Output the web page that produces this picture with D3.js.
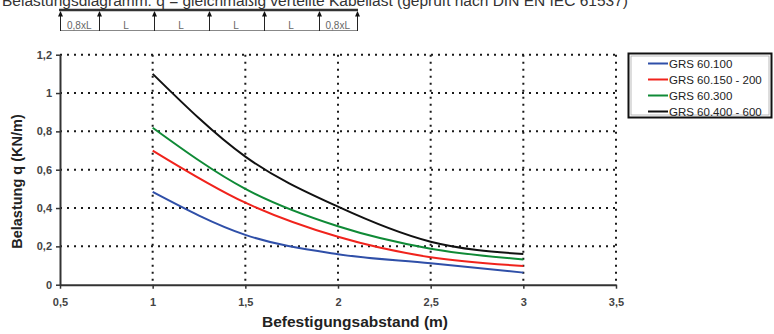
<!DOCTYPE html>
<html><head><meta charset="utf-8">
<script src="https://cdn.jsdelivr.net/npm/d3@7"></script>
<style>body{margin:0;background:#fff}svg{display:block}text{font-family:"Liberation Sans",Arial,sans-serif}</style>
</head><body><svg id="c" width="774" height="334"></svg>
<script>
// ---- data ----
const xValues = [1, 1.5, 2, 2.5, 3];
const seriesNames = ["GRS 60.100", "GRS 60.150 - 200", "GRS 60.300", "GRS 60.400 - 600"];
const seriesColors = ["#2f4fa8", "#f0231c", "#0f8a36", "#111111"];
const grs60_100 = [0.484, 0.26, 0.159, 0.112, 0.063];
const grs60_150_200 = [0.70, 0.428, 0.25, 0.143, 0.098];
const grs60_300 = [0.819, 0.50, 0.305, 0.188, 0.132];
const grs60_400_600 = [1.10, 0.668, 0.407, 0.224, 0.16];
const xTicks = [0.5, 1, 1.5, 2, 2.5, 3, 3.5];
const yTicks = [0, 0.2, 0.4, 0.6, 0.8, 1, 1.2];
const spanLabels = ["0,8xL", "L", "L", "L", "L", "0,8xL"];
const spanLengths = [0.7, 1, 1, 1, 1, 0.7];
const titleText = "Belastungsdiagramm: q = gleichmäßig verteilte Kabellast (geprüft nach DIN EN IEC 61537)";
const xTitle = "Befestigungsabstand (m)";
const yTitle = "Belastung q (KN/m)";

const allSeries = [grs60_100, grs60_150_200, grs60_300, grs60_400_600];
const svg = d3.select("#c");
const fmt = d => String(d).replace(".", ",");

// title (cut at top, as in the reference)
svg.append("text").attr("x", 2).attr("y", 6).attr("font-size", 15.5).attr("fill", "#333").text(titleText);

// beam diagram
const cum = [0]; spanLengths.forEach(l => cum.push(cum[cum.length - 1] + l));
const bx = d3.scaleLinear().domain([0, cum[cum.length - 1]]).range([60, 357]);
const beam = svg.append("g");
beam.append("line").attr("x1", bx(0)).attr("x2", bx(cum[cum.length-1])).attr("y1", 30.5).attr("y2", 30.5).attr("stroke", "#888").attr("stroke-width", 1);
beam.append("line").attr("x1", bx(0) - 1).attr("x2", bx(cum[cum.length-1]) + 1).attr("y1", 10).attr("y2", 10).attr("stroke", "#333").attr("stroke-width", 2.5);
cum.forEach(c => {
  const x = Math.round(bx(c)) + 0.5;
  beam.append("line").attr("x1", x).attr("x2", x).attr("y1", 31).attr("y2", 14).attr("stroke", "#222").attr("stroke-width", 1);
  beam.append("path").attr("d", `M${x},11 L${x-2.5},16.5 L${x+2.5},16.5 Z`).attr("fill", "#111");
});
spanLabels.forEach((t, i) => {
  beam.append("text").attr("x", bx((cum[i] + cum[i+1]) / 2)).attr("y", 29).attr("text-anchor", "middle")
    .attr("font-size", 10).attr("fill", "#666").text(t);
});

// chart
const x = d3.scaleLinear().domain([0.5, 3.5]).range([60, 616]);
const y = d3.scaleLinear().domain([0, 1.2]).range([284.7, 54.7]);

const grid = svg.append("g").attr("stroke", "#1a1a1a").attr("stroke-width", 2).attr("stroke-dasharray", "2,5");
yTicks.filter(d => d > 0).forEach(d => grid.append("line").attr("x1", x(0.5)).attr("x2", x(3.5)).attr("y1", y(d)).attr("y2", y(d)));
xTicks.filter(d => d > 0.5).forEach(d => grid.append("line").attr("x1", x(d)).attr("x2", x(d)).attr("y1", y(1.2)).attr("y2", y(0)));

const line = d3.line().x((d, i) => x(xValues[i])).y(d => y(d)).curve(d3.curveMonotoneX);
allSeries.forEach((s, i) => {
  svg.append("path").datum(s).attr("d", line).attr("fill", "none").attr("stroke", seriesColors[i]).attr("stroke-width", 2);
});

// axes
const xa = svg.append("g").attr("transform", `translate(0,${y(0)})`)
  .call(d3.axisBottom(x).tickValues(xTicks).tickFormat(fmt).tickSize(4).tickSizeOuter(0));
const ya = svg.append("g").attr("transform", `translate(${x(0.5)},0)`)
  .call(d3.axisLeft(y).tickValues(yTicks).tickFormat(fmt).tickSize(4).tickSizeOuter(0));
[xa, ya].forEach(a => {
  a.select(".domain").attr("stroke", "#333").attr("stroke-width", 2);
  a.selectAll(".tick line").attr("stroke", "#333").attr("stroke-width", 1.5);
  a.selectAll(".tick text").attr("font-size", 11).attr("font-weight", "bold").attr("fill", "#444").attr("font-family", "Liberation Sans, Arial, sans-serif");
});
xa.selectAll(".tick text").attr("dy", null).attr("y", 21.5);
ya.selectAll(".tick text").attr("x", -8);

svg.append("text").attr("x", 355).attr("y", 327).attr("text-anchor", "middle").attr("font-size", 15.5).attr("font-weight", "bold").attr("fill", "#222").text(xTitle);
svg.append("text").attr("transform", "translate(22,181.5) rotate(-90)").attr("text-anchor", "middle").attr("font-size", 14.5).attr("font-weight", "bold").attr("fill", "#222").text(yTitle);

// legend
const lg = svg.append("g");
lg.append("rect").attr("x", 628.5).attr("y", 53.5).attr("width", 143).attr("height", 64).attr("fill", "#fff").attr("stroke", "#111").attr("stroke-width", 2);
lg.append("rect").attr("x", 631).attr("y", 56).attr("width", 138).attr("height", 59).attr("fill", "none").attr("stroke", "#aaa").attr("stroke-width", 0.8);
seriesNames.forEach((n, i) => {
  const yy = 63.5 + i * 16;
  lg.append("line").attr("x1", 648).attr("x2", 668).attr("y1", yy).attr("y2", yy).attr("stroke", seriesColors[i]).attr("stroke-width", 2);
  lg.append("text").attr("x", 669).attr("y", yy + 4).attr("font-size", 11.5).attr("fill", "#222").text(n);
});
</script></body></html>
